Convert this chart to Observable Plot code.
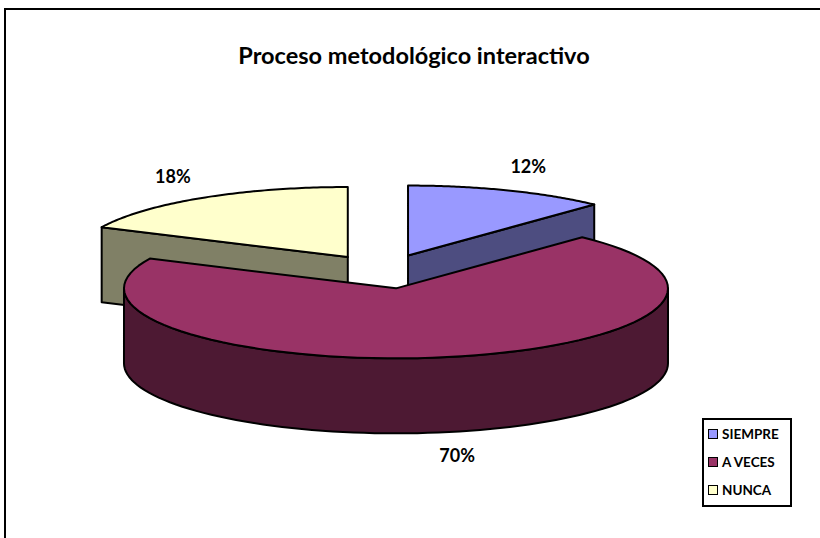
<!DOCTYPE html>
<html>
<head>
<meta charset="utf-8">
<script src="https://cdn.jsdelivr.net/npm/d3@7"></script>
<script src="https://cdn.jsdelivr.net/npm/@observablehq/plot@0.6"></script>
<style>
  html, body { margin: 0; padding: 0; background: #fff; }
  #wrap { position: relative; width: 820px; height: 538px; overflow: hidden; font-family: Lato, "Open Sans", sans-serif; }
  #frame { position: absolute; left: 4px; top: 8px; width: 830px; height: 600px; border-top: 2px solid #000; border-left: 2px solid #000; }
  #chart { position: absolute; left: 0; top: 0; }
  #title { position: absolute; left: 0; top: 41px; width: 828px; text-align: center; font-weight: bold; font-size: 23.5px; line-height: 28px; color: #000; }
  #legend { position: absolute; left: 702px; top: 418px; width: 86px; height: 85px; border: 2px solid #000; background: #fff; }
  .item { position: absolute; left: 4px; height: 14px; display: flex; align-items: center; font-weight: bold; font-size: 13.5px; color: #000; white-space: nowrap; }
  .sw { width: 8px; height: 8px; border: 1.5px solid #000; margin-right: 4px; flex: none; }
</style>
</head>
<body>
<div id="wrap">
  <div id="frame"></div>
  <div id="chart"></div>
  <div id="title"></div>
  <div id="legend"></div>
</div>
<script>
// ---- data ----
const title = "Proceso metodológico interactivo";
const categories = ["SIEMPRE", "A VECES", "NUNCA"];
const values = [12, 70, 18];
const labels = ["12%", "70%", "18%"];
const topColors = ["#9999FF", "#993366", "#FFFFCC"];
const sideColors = ["#4D4D80", "#4D1933", "#808066"];

// ---- layout ----
const W = 820, H = 538;
const CX = 383, CY = 271, RX = 272, RY = 70, DEPTH = 75;
const EXPLODE = 0.245;
const D = DEPTH / RY;              // depth in normalized y units
const LBL_RX = 1.2, LBL_RY = 1.35;

const total = d3.sum(values);
const TAU = Math.PI * 2;
let cum = 0;
const slices = values.map((v, i) => {
  const a0 = cum / total * TAU; cum += v;
  const a1 = cum / total * TAU;
  const mid = (a0 + a1) / 2;
  return { i, a0, a1, mid, o: { x: EXPLODE * Math.sin(mid), y: EXPLODE * Math.cos(mid) } };
});

const pt = (o, a, dz = 0) => ({ x: o.x + Math.sin(a), y: o.y + Math.cos(a) - dz });
const arc = (o, s, e, dz = 0, n = 80) => d3.range(n + 1).map(k => pt(o, s + (e - s) * k / n, dz));

const polys = []; // {pts, fill}
const order = slices.slice().sort((a, b) => Math.cos(b.mid) - Math.cos(a.mid));
const eps = 1e-6;
for (const s of order) {
  const o = s.o, ob = { x: o.x, y: o.y - D };
  if (Math.sin(s.a0) < -eps) {
    polys.push({ fill: sideColors[s.i], pts: [ {x:o.x,y:o.y}, pt(o, s.a0), pt(o, s.a0, D), {x:ob.x,y:ob.y}, {x:o.x,y:o.y} ] });
  }
  if (Math.sin(s.a1) > eps) {
    polys.push({ fill: sideColors[s.i], pts: [ {x:o.x,y:o.y}, pt(o, s.a1), pt(o, s.a1, D), {x:ob.x,y:ob.y}, {x:o.x,y:o.y} ] });
  }
  const ws = Math.max(s.a0, Math.PI / 2), we = Math.min(s.a1, 3 * Math.PI / 2);
  if (we > ws) {
    const top = arc(o, ws, we), bot = arc(o, we, ws, D);
    polys.push({ fill: sideColors[s.i], pts: [...top, ...bot, top[0]] });
  }
  polys.push({ fill: topColors[s.i], pts: [ {x:o.x,y:o.y}, ...arc(o, s.a0, s.a1), {x:o.x,y:o.y} ] });
}

const labelData = slices.map(s => ({
  x: s.o.x + LBL_RX * Math.sin(s.mid),
  y: s.o.y + LBL_RY * Math.cos(s.mid) - (Math.cos(s.mid) < 0 ? D : 0),
  text: labels[s.i]
}));

const chart = Plot.plot({
  width: W, height: H, margin: 0,
  style: { fontFamily: "Lato, 'Open Sans', sans-serif", background: "transparent", overflow: "visible" },
  x: { domain: [(0 - CX) / RX, (W - CX) / RX], range: [0, W], axis: null },
  y: { domain: [(CY - H) / RY, CY / RY], range: [H, 0], axis: null },
  marks: [
    ...polys.map(p => Plot.line(p.pts, { x: "x", y: "y", fill: p.fill, stroke: "#000", strokeWidth: 2, strokeLinejoin: "round", curve: "linear" })),
    Plot.text(labelData, { x: "x", y: "y", text: "text", fontSize: 18, fontWeight: "bold", fill: "#000" })
  ]
});
document.getElementById("chart").appendChild(chart);
document.getElementById("title").textContent = title;

const legend = document.getElementById("legend");
categories.forEach((c, i) => {
  const item = document.createElement("div");
  item.className = "item";
  item.style.top = (7 + i * 28) + "px";
  const sw = document.createElement("div");
  sw.className = "sw";
  sw.style.background = topColors[i];
  item.appendChild(sw);
  item.appendChild(document.createTextNode(c));
  legend.appendChild(item);
});
</script>
</body>
</html>
